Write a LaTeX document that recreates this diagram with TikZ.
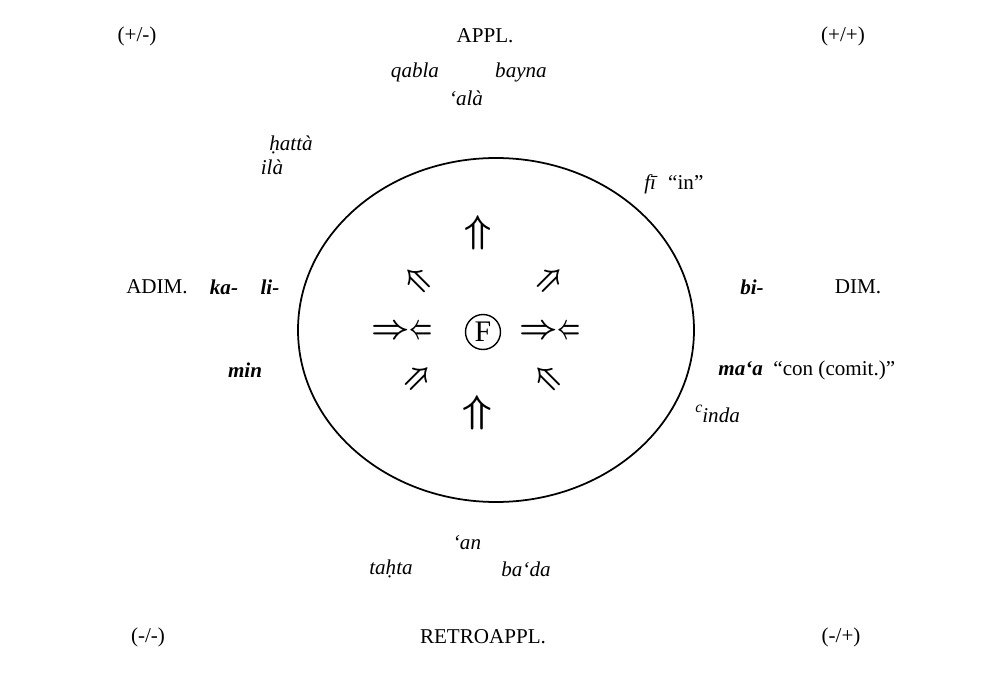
\documentclass[tikz,border=0pt]{standalone}
\usepackage{fontspec}
\setmainfont{Liberation Serif}
\usepackage{tikz}

\tikzset{
  lab/.style={font=\fontsize{12}{14}\selectfont, inner sep=0pt},
  prep/.style={font=\fontsize{12}{14}\selectfont\itshape, inner sep=0pt},
  bprep/.style={font=\fontsize{12}{14}\selectfont\bfseries\itshape, inner sep=0pt},
  dbl/.style={inner sep=0pt, font=\boldmath},
}
\newcommand{\meets}{$\Rightarrow$\hspace{-0.2pt}\scalebox{0.6}[1]{$\Leftarrow$}}

\begin{document}
\begin{tikzpicture}[x=0.02cm, y=-0.02cm]
  \useasboundingbox (0,0) rectangle (990,682);
  % corner and axis labels
  \node[lab] (pm) at (137,36) {(+/-)};
  \node[lab] (appl) at (485,36) {APPL.};
  \node[lab] (pp) at (843,36) {(+/+)};
  \node[lab] (adim) at (157,287) {ADIM.};
  \node[lab] (dim) at (858,287) {DIM.};
  \node[lab] (mm) at (148,637) {(-/-)};
  \node[lab] (retro) at (483,637) {RETROAPPL.};
  \node[lab] (mp) at (841,637) {(-/+)};
  % prepositions round the field
  \node[prep] (qabla) at (415,72) {qabla};
  \node[prep] (bayna) at (521,72) {bayna};
  \node[prep] (ala) at (466,98) {‘alà};
  \node[prep] (hatta) at (291,145) {\d{h}attà};
  \node[prep] (ila) at (272,167) {ilà};
  \node[lab, anchor=west] (fi) at (644,184) {\textit{fī}\enspace “in”};
  \node[bprep] (ka) at (224,287) {ka-};
  \node[bprep] (li) at (270,287) {li-};
  \node[bprep] (bi) at (752,287) {bi-};
  \node[bprep] (min) at (245,370) {min};
  \node[lab, anchor=west] (maa) at (718,370) {\textbf{\textit{ma‘a}}\enspace “con (comit.)”};
  \node[prep, anchor=west] (inda) at (695,414) {\raisebox{0.45em}{\fontsize{9}{9}\selectfont c}inda};
  \node[prep] (an) at (467,543) {‘an};
  \node[prep] (tahta) at (391,569) {ta\d{h}ta};
  \node[prep] (bada) at (526,569) {ba‘da};
  % the field
  \draw[line width=1pt] (496,330) ellipse (198 and 172);
  \node[draw, circle, line width=0.8pt, inner sep=1pt, minimum size=0.7cm,
        font=\fontsize{17}{17}\selectfont] (F) at (483,332) {F};
  \node[dbl] (up) at (478,233) {\scalebox{2.2}{$\Uparrow$}};
  \node[dbl, rotate=45] (ul) at (418,280) {\scalebox{1.8}{$\Uparrow$}};
  \node[dbl, rotate=-45] (ur) at (550,280) {\scalebox{1.8}{$\Uparrow$}};
  \node[dbl] (ml) at (402,332) {\scalebox{1.9}{\meets}};
  \node[dbl] (mr) at (550,332) {\scalebox{1.9}{\meets}};
  \node[dbl, rotate=-45] (ll) at (418,378) {\scalebox{1.8}{$\Uparrow$}};
  \node[dbl, rotate=45] (lr) at (548,378) {\scalebox{1.8}{$\Uparrow$}};
  \node[dbl] (down) at (477,413) {\scalebox{2.4}[2.2]{$\Uparrow$}};
\end{tikzpicture}
\end{document}
